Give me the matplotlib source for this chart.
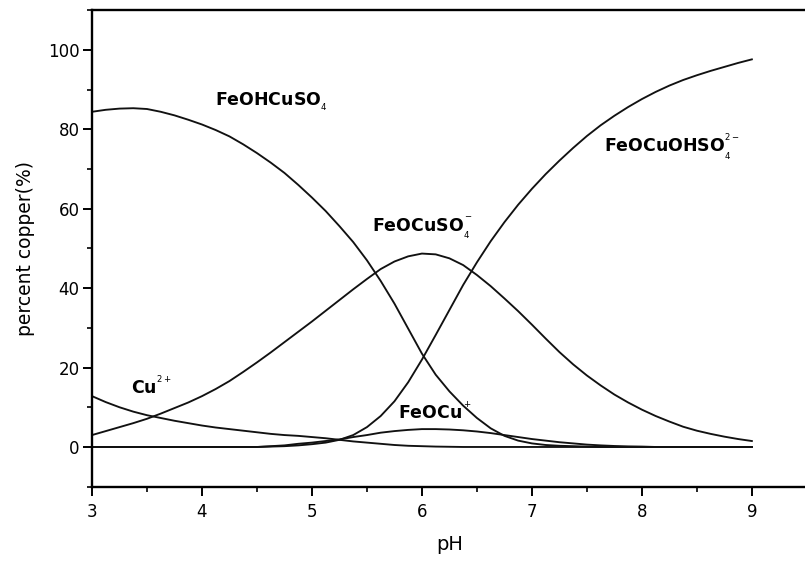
import matplotlib
matplotlib.use('Agg')
import matplotlib.pyplot as plt
from matplotlib.ticker import MultipleLocator

# %% speciation of copper vs pH (percent of total Cu)

ph = [3.000, 3.125, 3.250, 3.375, 3.500, 3.625, 3.750, 3.875,
      4.000, 4.125, 4.250, 4.375, 4.500, 4.625, 4.750, 4.875,
      5.000, 5.125, 5.250, 5.375, 5.500, 5.625, 5.750, 5.875,
      6.000, 6.125, 6.250, 6.375, 6.500, 6.625, 6.750, 6.875,
      7.000, 7.125, 7.250, 7.375, 7.500, 7.625, 7.750, 7.875,
      8.000, 8.125, 8.250, 8.375, 8.500, 8.625, 8.750, 8.875, 9.000]

feohcuso4 = [84.4, 84.9, 85.2, 85.3, 85.1, 84.4, 83.5, 82.4,
             81.2, 79.8, 78.2, 76.2, 74.0, 71.6, 69.0, 66.0,
             62.8, 59.4, 55.6, 51.6, 47.0, 41.8, 36.1, 29.8,
             23.5, 18.2, 14.0, 10.4, 7.3, 4.7, 2.8, 1.6,
             0.9, 0.5, 0.3, 0.2, 0.1, 0.0, 0.0, 0.0,
             0.0, 0.0, 0.0, 0.0, 0.0, 0.0, 0.0, 0.0, 0.0]

feocuso4 = [3.0, 4.0, 5.0, 6.0, 7.1, 8.4, 9.8, 11.2,
            12.8, 14.6, 16.6, 18.9, 21.3, 23.8, 26.4, 29.0,
            31.6, 34.3, 37.0, 39.7, 42.3, 44.8, 46.7, 48.0,
            48.7, 48.5, 47.5, 45.8, 43.3, 40.5, 37.4, 34.2,
            30.8, 27.3, 23.9, 20.8, 18.0, 15.5, 13.2, 11.2,
            9.4, 7.8, 6.4, 5.1, 4.1, 3.3, 2.6, 2.0, 1.5]

feocuohso4 = [0.0, 0.0, 0.0, 0.0, 0.0, 0.0, 0.0, 0.0,
              0.0, 0.0, 0.0, 0.0, 0.0, 0.1, 0.2, 0.4,
              0.7, 1.1, 1.8, 3.0, 5.0, 7.8, 11.5, 16.3,
              22.0, 28.2, 34.5, 40.8, 46.5, 51.8, 56.6, 61.0,
              65.0, 68.7, 72.1, 75.3, 78.3, 81.0, 83.4, 85.6,
              87.6, 89.4, 91.0, 92.4, 93.6, 94.7, 95.7, 96.7, 97.6]

feocu = [0.0, 0.0, 0.0, 0.0, 0.0, 0.0, 0.0, 0.0,
         0.0, 0.0, 0.0, 0.0, 0.0, 0.2, 0.4, 0.8,
         1.1, 1.5, 1.9, 2.5, 3.0, 3.6, 4.0, 4.3,
         4.5, 4.5, 4.4, 4.2, 3.9, 3.5, 3.0, 2.5,
         2.0, 1.6, 1.2, 0.9, 0.6, 0.4, 0.25, 0.15,
         0.1, 0.0, 0.0, 0.0, 0.0, 0.0, 0.0, 0.0, 0.0]

cu2 = [12.8, 11.3, 10.0, 8.9, 8.0, 7.3, 6.6, 6.0,
       5.4, 4.9, 4.5, 4.1, 3.7, 3.3, 3.0, 2.8,
       2.5, 2.2, 1.8, 1.4, 1.1, 0.8, 0.5, 0.3,
       0.2, 0.1, 0.05, 0.0, 0.0, 0.0, 0.0, 0.0,
       0.0, 0.0, 0.0, 0.0, 0.0, 0.0, 0.0, 0.0,
       0.0, 0.0, 0.0, 0.0, 0.0, 0.0, 0.0, 0.0, 0.0]

# %% plotting

fig = plt.figure(figsize=(8.05, 5.62), dpi=100)
ax = fig.add_axes([0.1143, 0.134, 0.888, 0.848])

for series in [feohcuso4, feocuso4, feocuohso4, feocu, cu2]:
    ax.plot(ph, series, color='#111111', lw=1.35)

ax.set_xlim(3, 9.5)
ax.set_ylim(-10, 110)
ax.set_xticks(range(3, 10))
ax.set_yticks(range(0, 101, 20))
ax.xaxis.set_minor_locator(MultipleLocator(0.5))
ax.yaxis.set_minor_locator(MultipleLocator(10))
ax.tick_params(which='major', direction='out', length=6.5, width=1.4, labelsize=12)
ax.tick_params(axis='x', which='major', pad=5)
ax.tick_params(axis='y', which='major', pad=2.5)
ax.tick_params(which='minor', direction='out', length=3.5, width=1.2)
for side in ['left', 'bottom', 'top']:
    ax.spines[side].set_linewidth(1.7)
ax.spines['right'].set_visible(False)

ax.set_xlabel('pH', fontsize=14, labelpad=10)
ax.set_ylabel('percent copper(%)', fontsize=13.5, labelpad=9)

# species labels
lab = dict(fontsize=12.5, fontweight='bold', va='center', ha='left')
ax.text(4.12, 86.8, r'FeOHCuSO$_{_4}$', **lab)
ax.text(5.55, 55.3, r'FeOCuSO$_{_4}^{^-}$', **lab)
ax.text(7.66, 75.5, r'FeOCuOHSO$_{_4}^{^{2-}}$', **lab)
ax.text(3.35, 15.3, r'Cu$^{^{2+}}$', **lab)
ax.text(5.78, 8.8, r'FeOCu$^{^+}$', **lab)

fig.savefig('out.png', dpi=100)
